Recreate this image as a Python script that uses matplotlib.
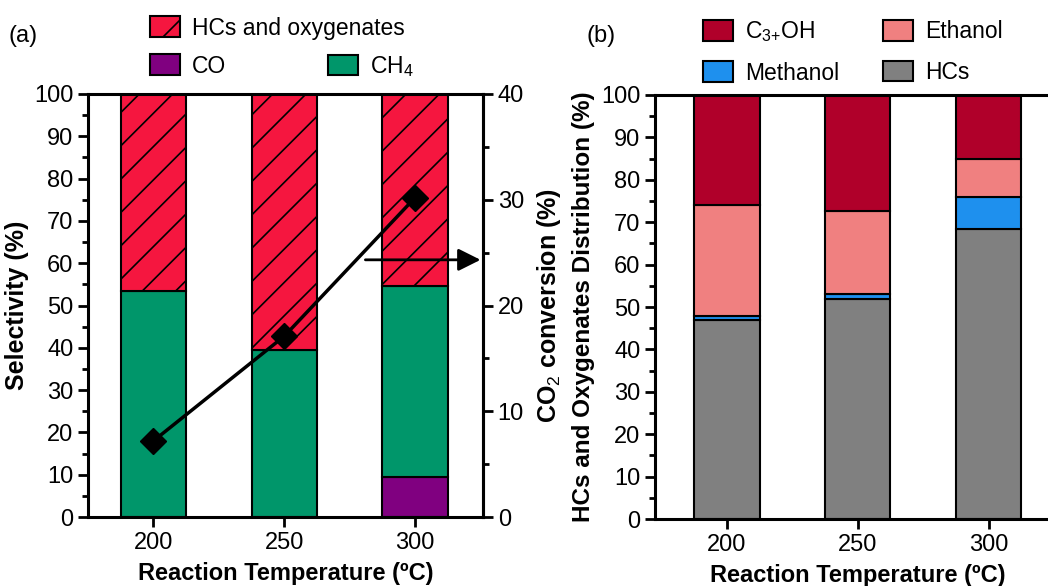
import numpy as np
import matplotlib.pyplot as plt
from matplotlib.patches import Patch
from matplotlib.ticker import MultipleLocator

plt.rcParams['font.family'] = ['Liberation Sans', 'DejaVu Sans']
plt.rcParams['mathtext.fontset'] = 'custom'
plt.rcParams['mathtext.rm'] = 'Liberation Sans'
plt.rcParams['hatch.linewidth'] = 1.2

temps = ['200', '250', '300']

# panel (a): selectivity (%)
co = [0.0, 0.0, 9.5]
ch4 = [53.5, 39.5, 45.0]
hcs_oxy = [46.5, 60.5, 45.5]
conversion = [7.2, 17.1, 30.2]  # CO2 conversion (%)

# panel (b): distribution (%)
hcs = [47.0, 51.8, 68.5]
methanol = [0.8, 1.2, 7.5]
ethanol = [26.2, 19.7, 9.0]
c3oh = [26.0, 27.3, 15.0]

c_red = '#F5163F'
c_green = '#00966A'
c_purple = '#800080'
c_c3 = '#B0002A'
c_eth = '#F08080'
c_meth = '#1E90EE'
c_gray = '#808080'

fig = plt.figure(figsize=(10.48, 5.86), dpi=100)
ax1 = fig.add_axes([0.084, 0.1177, 0.377, 0.7219])
ax2 = fig.add_axes([0.625, 0.1143, 0.387, 0.7236])

x = np.arange(len(temps))
w = 0.5
bar_kw = dict(width=w, edgecolor='black', linewidth=1.5, zorder=2)
leg_kw = dict(frameon=False, fontsize=16.5, handlelength=1.3, handleheight=1.0,
              handletextpad=0.55, borderpad=0, borderaxespad=0)


def style(ax):
    for s in ax.spines.values():
        s.set_linewidth(2.2)
    ax.tick_params(axis='both', which='major', direction='out', length=7, width=2, labelsize=17)
    ax.tick_params(axis='y', which='minor', direction='out', length=4, width=2)
    ax.yaxis.set_major_locator(MultipleLocator(10))
    ax.yaxis.set_minor_locator(MultipleLocator(5))
    ax.set_xticks(x)
    ax.set_xticklabels(temps)
    ax.set_ylim(0, 100)
    ax.set_xlabel('Reaction Temperature (ºC)', fontsize=17, fontweight='bold', labelpad=6)


# (a)
ax1.bar(x, co, color=c_purple, **bar_kw)
ax1.bar(x, ch4, bottom=co, color=c_green, **bar_kw)
bot = np.array(co) + np.array(ch4)
ax1.bar(x, hcs_oxy, bottom=bot, color=c_red, hatch='/', **bar_kw)
ax1.set_xlim(-0.5, 2.52)
style(ax1)
ax1.set_ylabel('Selectivity (%)', fontsize=18, fontweight='bold', labelpad=4)

axt = ax1.twinx()
axt.plot(x, conversion, color='black', lw=2.5, marker='D', markersize=13, zorder=5)
axt.set_ylim(0, 40)
axt.spines['right'].set_linewidth(2.2)
axt.tick_params(axis='y', which='major', direction='out', length=7, width=2, labelsize=17)
axt.tick_params(axis='y', which='minor', direction='out', length=4, width=2)
axt.yaxis.set_major_locator(MultipleLocator(10))
axt.yaxis.set_minor_locator(MultipleLocator(5))
axt.set_ylabel('CO$_2$ conversion (%)', fontsize=18, fontweight='bold', labelpad=8)
axt.annotate('', xy=(2.5, 60.8), xytext=(1.62, 60.8), xycoords=ax1.transData,
             arrowprops=dict(arrowstyle='-|>', mutation_scale=34, lw=2, color='black',
                             shrinkA=0, shrinkB=0))

h_a1 = [Patch(facecolor=c_red, edgecolor='black', hatch='/', linewidth=1.5, label='HCs and oxygenates'),
        Patch(facecolor=c_purple, edgecolor='black', linewidth=1.5, label='CO')]
h_a2 = [Patch(facecolor=c_green, edgecolor='black', linewidth=1.5, label='CH$_4$')]
fig.legend(handles=h_a1, loc='upper left', bbox_to_anchor=(0.1431, 0.972),
           labelspacing=0.65, **leg_kw)
fig.legend(handles=h_a2, loc='upper left', bbox_to_anchor=(0.313, 0.908), **leg_kw)
fig.text(0.008, 0.928, '(a)', fontsize=17)

# (b)
ax2.bar(x, hcs, color=c_gray, **bar_kw)
b = np.array(hcs)
ax2.bar(x, methanol, bottom=b, color=c_meth, **bar_kw)
b = b + np.array(methanol)
ax2.bar(x, ethanol, bottom=b, color=c_eth, **bar_kw)
b = b + np.array(ethanol)
ax2.bar(x, c3oh, bottom=b, color=c_c3, **bar_kw)
ax2.set_xlim(-0.55, 2.55)
style(ax2)
ax2.set_ylabel('HCs and Oxygenates Distribution (%)', fontsize=17.5, fontweight='bold', labelpad=4)

h_b = [Patch(facecolor=c_c3, edgecolor='black', linewidth=1.5, label='C$_\\mathregular{3{+}}$OH'),
       Patch(facecolor=c_meth, edgecolor='black', linewidth=1.5, label='Methanol'),
       Patch(facecolor=c_eth, edgecolor='black', linewidth=1.5, label='Ethanol'),
       Patch(facecolor=c_gray, edgecolor='black', linewidth=1.5, label='HCs')]
fig.legend(handles=h_b, ncol=2, loc='upper left', bbox_to_anchor=(0.6708, 0.967),
           columnspacing=1.9, labelspacing=0.75, **leg_kw)
fig.text(0.56, 0.928, '(b)', fontsize=17)

fig.savefig('out.png', dpi=100)
